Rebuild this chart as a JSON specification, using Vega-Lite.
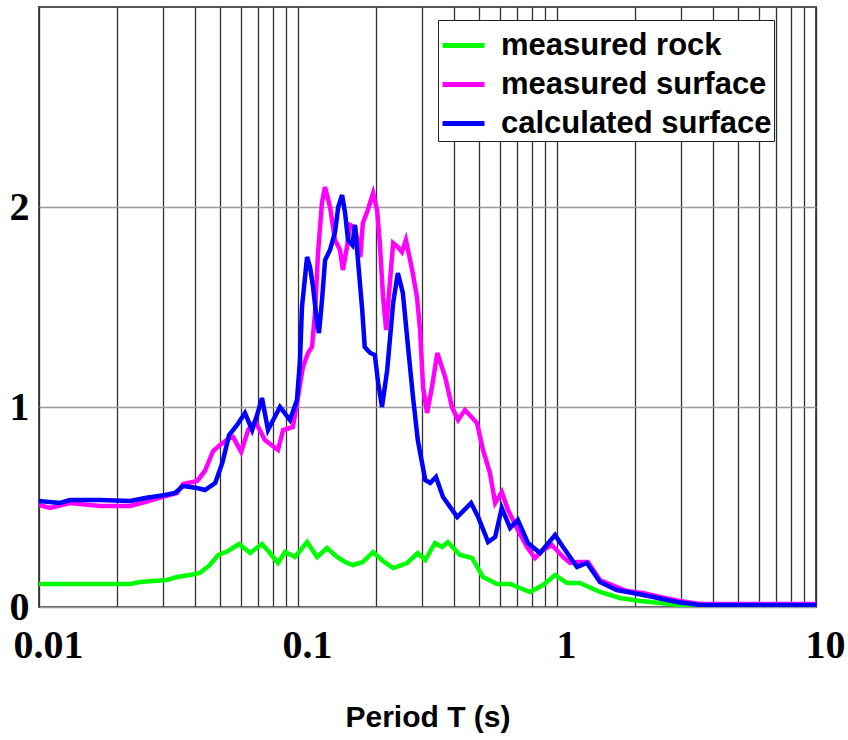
{
  "$schema": "https://vega.github.io/schema/vega-lite/v6.json",
  "width": 777,
  "height": 600,
  "autosize": {"type": "none"},
  "padding": {"left": 39, "top": 7, "right": 32, "bottom": 133},
  "background": "white",
  "config": {
    "view": {"stroke": "#555555", "strokeWidth": 2},
    "axis": {"domain": false, "ticks": false}
  },
  "data": {
    "values": [
      {"s": "measured rock", "T": 0.01, "A": 0.115},
      {"s": "measured rock", "T": 0.0144, "A": 0.115},
      {"s": "measured rock", "T": 0.0225, "A": 0.115},
      {"s": "measured rock", "T": 0.0245, "A": 0.125},
      {"s": "measured rock", "T": 0.0312, "A": 0.135},
      {"s": "measured rock", "T": 0.0341, "A": 0.15},
      {"s": "measured rock", "T": 0.0383, "A": 0.16},
      {"s": "measured rock", "T": 0.0418, "A": 0.17},
      {"s": "measured rock", "T": 0.0457, "A": 0.21},
      {"s": "measured rock", "T": 0.0491, "A": 0.26},
      {"s": "measured rock", "T": 0.0537, "A": 0.28},
      {"s": "measured rock", "T": 0.0592, "A": 0.315},
      {"s": "measured rock", "T": 0.0653, "A": 0.27},
      {"s": "measured rock", "T": 0.0726, "A": 0.315},
      {"s": "measured rock", "T": 0.0779, "A": 0.27},
      {"s": "measured rock", "T": 0.0837, "A": 0.22},
      {"s": "measured rock", "T": 0.0891, "A": 0.275},
      {"s": "measured rock", "T": 0.0974, "A": 0.25},
      {"s": "measured rock", "T": 0.1084, "A": 0.325},
      {"s": "measured rock", "T": 0.1185, "A": 0.25},
      {"s": "measured rock", "T": 0.1294, "A": 0.295},
      {"s": "measured rock", "T": 0.1415, "A": 0.25},
      {"s": "measured rock", "T": 0.152, "A": 0.225},
      {"s": "measured rock", "T": 0.163, "A": 0.21},
      {"s": "measured rock", "T": 0.178, "A": 0.225},
      {"s": "measured rock", "T": 0.195, "A": 0.275},
      {"s": "measured rock", "T": 0.213, "A": 0.23},
      {"s": "measured rock", "T": 0.233, "A": 0.195},
      {"s": "measured rock", "T": 0.264, "A": 0.22},
      {"s": "measured rock", "T": 0.29, "A": 0.27},
      {"s": "measured rock", "T": 0.31, "A": 0.235},
      {"s": "measured rock", "T": 0.338, "A": 0.32},
      {"s": "measured rock", "T": 0.36, "A": 0.3},
      {"s": "measured rock", "T": 0.379, "A": 0.325},
      {"s": "measured rock", "T": 0.422, "A": 0.26},
      {"s": "measured rock", "T": 0.47, "A": 0.245},
      {"s": "measured rock", "T": 0.518, "A": 0.15},
      {"s": "measured rock", "T": 0.587, "A": 0.115},
      {"s": "measured rock", "T": 0.659, "A": 0.115},
      {"s": "measured rock", "T": 0.786, "A": 0.075},
      {"s": "measured rock", "T": 0.883, "A": 0.11},
      {"s": "measured rock", "T": 0.983, "A": 0.16},
      {"s": "measured rock", "T": 1.093, "A": 0.12},
      {"s": "measured rock", "T": 1.225, "A": 0.12},
      {"s": "measured rock", "T": 1.465, "A": 0.075},
      {"s": "measured rock", "T": 1.75, "A": 0.045},
      {"s": "measured rock", "T": 2.09, "A": 0.03},
      {"s": "measured rock", "T": 2.5, "A": 0.02},
      {"s": "measured rock", "T": 2.97, "A": 0.01},
      {"s": "measured rock", "T": 10, "A": 0.01},

      {"s": "measured surface", "T": 0.01, "A": 0.51},
      {"s": "measured surface", "T": 0.01103, "A": 0.495},
      {"s": "measured surface", "T": 0.01317, "A": 0.52},
      {"s": "measured surface", "T": 0.0172, "A": 0.505},
      {"s": "measured surface", "T": 0.0225, "A": 0.505},
      {"s": "measured surface", "T": 0.0257, "A": 0.525},
      {"s": "measured surface", "T": 0.0298, "A": 0.55},
      {"s": "measured surface", "T": 0.0341, "A": 0.57},
      {"s": "measured surface", "T": 0.036, "A": 0.615},
      {"s": "measured surface", "T": 0.0408, "A": 0.63},
      {"s": "measured surface", "T": 0.0437, "A": 0.68},
      {"s": "measured surface", "T": 0.047, "A": 0.78},
      {"s": "measured surface", "T": 0.05, "A": 0.81},
      {"s": "measured surface", "T": 0.0537, "A": 0.84},
      {"s": "measured surface", "T": 0.0562, "A": 0.85},
      {"s": "measured surface", "T": 0.0603, "A": 0.775},
      {"s": "measured surface", "T": 0.0642, "A": 0.885},
      {"s": "measured surface", "T": 0.0683, "A": 0.93},
      {"s": "measured surface", "T": 0.0745, "A": 0.835},
      {"s": "measured surface", "T": 0.0837, "A": 0.785},
      {"s": "measured surface", "T": 0.0876, "A": 0.885},
      {"s": "measured surface", "T": 0.0956, "A": 0.9},
      {"s": "measured surface", "T": 0.1, "A": 1.05},
      {"s": "measured surface", "T": 0.1045, "A": 1.2},
      {"s": "measured surface", "T": 0.1093, "A": 1.27},
      {"s": "measured surface", "T": 0.1133, "A": 1.3},
      {"s": "measured surface", "T": 0.1163, "A": 1.47},
      {"s": "measured surface", "T": 0.1195, "A": 1.77},
      {"s": "measured surface", "T": 0.1238, "A": 2.025},
      {"s": "measured surface", "T": 0.1272, "A": 2.1},
      {"s": "measured surface", "T": 0.1329, "A": 2.0},
      {"s": "measured surface", "T": 0.139, "A": 1.835},
      {"s": "measured surface", "T": 0.1453, "A": 1.785},
      {"s": "measured surface", "T": 0.149, "A": 1.685},
      {"s": "measured surface", "T": 0.1546, "A": 1.8},
      {"s": "measured surface", "T": 0.159, "A": 1.91},
      {"s": "measured surface", "T": 0.166, "A": 1.9},
      {"s": "measured surface", "T": 0.174, "A": 1.75},
      {"s": "measured surface", "T": 0.178, "A": 1.92},
      {"s": "measured surface", "T": 0.186, "A": 1.985},
      {"s": "measured surface", "T": 0.195, "A": 2.07},
      {"s": "measured surface", "T": 0.202, "A": 1.985},
      {"s": "measured surface", "T": 0.207, "A": 1.82},
      {"s": "measured surface", "T": 0.213, "A": 1.55},
      {"s": "measured surface", "T": 0.219, "A": 1.385},
      {"s": "measured surface", "T": 0.223, "A": 1.52},
      {"s": "measured surface", "T": 0.233, "A": 1.82},
      {"s": "measured surface", "T": 0.243, "A": 1.8},
      {"s": "measured surface", "T": 0.252, "A": 1.775},
      {"s": "measured surface", "T": 0.261, "A": 1.835},
      {"s": "measured surface", "T": 0.276, "A": 1.685},
      {"s": "measured surface", "T": 0.288, "A": 1.55},
      {"s": "measured surface", "T": 0.296, "A": 1.385},
      {"s": "measured surface", "T": 0.304, "A": 1.1},
      {"s": "measured surface", "T": 0.315, "A": 0.97},
      {"s": "measured surface", "T": 0.329, "A": 1.1},
      {"s": "measured surface", "T": 0.345, "A": 1.27},
      {"s": "measured surface", "T": 0.37, "A": 1.15},
      {"s": "measured surface", "T": 0.393, "A": 1.0},
      {"s": "measured surface", "T": 0.415, "A": 0.935},
      {"s": "measured surface", "T": 0.441, "A": 0.985},
      {"s": "measured surface", "T": 0.491, "A": 0.92},
      {"s": "measured surface", "T": 0.518, "A": 0.785},
      {"s": "measured surface", "T": 0.551, "A": 0.67},
      {"s": "measured surface", "T": 0.577, "A": 0.52},
      {"s": "measured surface", "T": 0.612, "A": 0.575},
      {"s": "measured surface", "T": 0.647, "A": 0.485},
      {"s": "measured surface", "T": 0.706, "A": 0.385},
      {"s": "measured surface", "T": 0.766, "A": 0.3},
      {"s": "measured surface", "T": 0.822, "A": 0.245},
      {"s": "measured surface", "T": 0.883, "A": 0.285},
      {"s": "measured surface", "T": 0.956, "A": 0.31},
      {"s": "measured surface", "T": 1.055, "A": 0.25},
      {"s": "measured surface", "T": 1.123, "A": 0.22},
      {"s": "measured surface", "T": 1.205, "A": 0.225},
      {"s": "measured surface", "T": 1.317, "A": 0.225},
      {"s": "measured surface", "T": 1.465, "A": 0.135},
      {"s": "measured surface", "T": 1.63, "A": 0.11},
      {"s": "measured surface", "T": 1.86, "A": 0.08},
      {"s": "measured surface", "T": 2.15, "A": 0.07},
      {"s": "measured surface", "T": 2.5, "A": 0.05},
      {"s": "measured surface", "T": 2.97, "A": 0.03},
      {"s": "measured surface", "T": 3.57, "A": 0.015},
      {"s": "measured surface", "T": 10, "A": 0.015},

      {"s": "calculated surface", "T": 0.01, "A": 0.53},
      {"s": "calculated surface", "T": 0.01205, "A": 0.52},
      {"s": "calculated surface", "T": 0.01317, "A": 0.535},
      {"s": "calculated surface", "T": 0.0172, "A": 0.535},
      {"s": "calculated surface", "T": 0.0225, "A": 0.53},
      {"s": "calculated surface", "T": 0.0257, "A": 0.545},
      {"s": "calculated surface", "T": 0.0307, "A": 0.56},
      {"s": "calculated surface", "T": 0.0335, "A": 0.57},
      {"s": "calculated surface", "T": 0.036, "A": 0.605},
      {"s": "calculated surface", "T": 0.0408, "A": 0.595},
      {"s": "calculated surface", "T": 0.0437, "A": 0.585},
      {"s": "calculated surface", "T": 0.0479, "A": 0.62},
      {"s": "calculated surface", "T": 0.051, "A": 0.72},
      {"s": "calculated surface", "T": 0.0542, "A": 0.86},
      {"s": "calculated surface", "T": 0.0582, "A": 0.91},
      {"s": "calculated surface", "T": 0.0624, "A": 0.97},
      {"s": "calculated surface", "T": 0.0665, "A": 0.885},
      {"s": "calculated surface", "T": 0.0695, "A": 0.96},
      {"s": "calculated surface", "T": 0.0726, "A": 1.045},
      {"s": "calculated surface", "T": 0.0766, "A": 0.885},
      {"s": "calculated surface", "T": 0.0852, "A": 1.0},
      {"s": "calculated surface", "T": 0.0931, "A": 0.935},
      {"s": "calculated surface", "T": 0.0991, "A": 1.035},
      {"s": "calculated surface", "T": 0.1018, "A": 1.235},
      {"s": "calculated surface", "T": 0.1036, "A": 1.5},
      {"s": "calculated surface", "T": 0.1084, "A": 1.75},
      {"s": "calculated surface", "T": 0.1113, "A": 1.7},
      {"s": "calculated surface", "T": 0.1143, "A": 1.6},
      {"s": "calculated surface", "T": 0.1185, "A": 1.42},
      {"s": "calculated surface", "T": 0.1205, "A": 1.37},
      {"s": "calculated surface", "T": 0.1238, "A": 1.535},
      {"s": "calculated surface", "T": 0.1272, "A": 1.735},
      {"s": "calculated surface", "T": 0.1329, "A": 1.785},
      {"s": "calculated surface", "T": 0.139, "A": 1.875},
      {"s": "calculated surface", "T": 0.143, "A": 2.0},
      {"s": "calculated surface", "T": 0.148, "A": 2.06},
      {"s": "calculated surface", "T": 0.152, "A": 1.97},
      {"s": "calculated surface", "T": 0.156, "A": 1.835},
      {"s": "calculated surface", "T": 0.162, "A": 1.81},
      {"s": "calculated surface", "T": 0.166, "A": 1.91},
      {"s": "calculated surface", "T": 0.17, "A": 1.75},
      {"s": "calculated surface", "T": 0.177, "A": 1.485},
      {"s": "calculated surface", "T": 0.181, "A": 1.3},
      {"s": "calculated surface", "T": 0.19, "A": 1.27},
      {"s": "calculated surface", "T": 0.198, "A": 1.26},
      {"s": "calculated surface", "T": 0.204, "A": 1.12},
      {"s": "calculated surface", "T": 0.211, "A": 1.0},
      {"s": "calculated surface", "T": 0.221, "A": 1.185},
      {"s": "calculated surface", "T": 0.233, "A": 1.52},
      {"s": "calculated surface", "T": 0.243, "A": 1.67},
      {"s": "calculated surface", "T": 0.254, "A": 1.57},
      {"s": "calculated surface", "T": 0.266, "A": 1.3},
      {"s": "calculated surface", "T": 0.278, "A": 1.05},
      {"s": "calculated surface", "T": 0.29, "A": 0.835},
      {"s": "calculated surface", "T": 0.31, "A": 0.635},
      {"s": "calculated surface", "T": 0.324, "A": 0.62},
      {"s": "calculated surface", "T": 0.341, "A": 0.65},
      {"s": "calculated surface", "T": 0.363, "A": 0.55},
      {"s": "calculated surface", "T": 0.412, "A": 0.45},
      {"s": "calculated surface", "T": 0.466, "A": 0.52},
      {"s": "calculated surface", "T": 0.496, "A": 0.45},
      {"s": "calculated surface", "T": 0.542, "A": 0.325},
      {"s": "calculated surface", "T": 0.577, "A": 0.35},
      {"s": "calculated surface", "T": 0.612, "A": 0.495},
      {"s": "calculated surface", "T": 0.659, "A": 0.395},
      {"s": "calculated surface", "T": 0.706, "A": 0.435},
      {"s": "calculated surface", "T": 0.772, "A": 0.32},
      {"s": "calculated surface", "T": 0.86, "A": 0.27},
      {"s": "calculated surface", "T": 0.983, "A": 0.36},
      {"s": "calculated surface", "T": 1.055, "A": 0.3},
      {"s": "calculated surface", "T": 1.195, "A": 0.2},
      {"s": "calculated surface", "T": 1.305, "A": 0.22},
      {"s": "calculated surface", "T": 1.465, "A": 0.125},
      {"s": "calculated surface", "T": 1.7, "A": 0.085},
      {"s": "calculated surface", "T": 1.97, "A": 0.07},
      {"s": "calculated surface", "T": 2.35, "A": 0.05},
      {"s": "calculated surface", "T": 2.9, "A": 0.025},
      {"s": "calculated surface", "T": 3.57, "A": 0.01},
      {"s": "calculated surface", "T": 10, "A": 0.01}
    ]
  },
  "mark": {"type": "line", "strokeWidth": 4.5, "interpolate": "linear", "clip": true},
  "encoding": {
    "x": {
      "field": "T",
      "type": "quantitative",
      "scale": {"type": "log", "domain": [0.01, 10]},
      "axis": {
        "title": "Period T (s)",
        "titleFont": "Liberation Sans",
        "titleFontWeight": "bold",
        "titleFontSize": 30,
        "titleColor": "black",
        "titlePadding": 37,
        "values": [0.01, 0.02, 0.03, 0.04, 0.05, 0.06, 0.07, 0.08, 0.09, 0.1, 0.2, 0.3, 0.4, 0.5, 0.6, 0.7, 0.8, 0.9, 1, 2, 3, 4, 5, 6, 7, 8, 9, 10],
        "labelExpr": "datum.value == 0.01 ? '0.01' : datum.value == 0.1 ? '0.1' : datum.value == 1 ? '1' : datum.value == 10 ? '10' : ''",
        "labelFont": "Liberation Serif",
        "labelFontWeight": "bold",
        "labelFontSize": 40,
        "labelColor": "black",
        "labelPadding": 18,
        "labelOffset": 9,
        "labelFlush": false,
        "labelOverlap": false,
        "labelBound": false,
        "grid": true,
        "gridColor": "#333333",
        "gridWidth": 1.3,
        "gridOpacity": 1
      }
    },
    "y": {
      "field": "A",
      "type": "quantitative",
      "scale": {"domain": [0, 3], "nice": false, "zero": true},
      "axis": {
        "title": null,
        "values": [0, 1, 2],
        "format": "d",
        "labelFont": "Liberation Serif",
        "labelFontWeight": "bold",
        "labelFontSize": 40,
        "labelColor": "black",
        "labelPadding": 10,
        "labelOverlap": false,
        "labelBound": false,
        "grid": true,
        "gridColor": "#9a9a9a",
        "gridWidth": 1.6,
        "gridOpacity": 1
      }
    },
    "color": {
      "field": "s",
      "type": "nominal",
      "scale": {
        "domain": ["measured rock", "measured surface", "calculated surface"],
        "range": ["#00ff00", "#ff00ff", "#0000ff"]
      },
      "legend": {
        "title": null,
        "orient": "none",
        "legendX": 399,
        "legendY": 13,
        "symbolType": "stroke",
        "symbolSize": 1764,
        "symbolStrokeWidth": 5,
        "labelFont": "Liberation Sans",
        "labelFontWeight": "bold",
        "labelFontSize": 31,
        "labelColor": "black",
        "labelOffset": 14,
        "labelLimit": 400,
        "rowPadding": -5,
        "padding": 2,
        "strokeColor": "#222222",
        "fillColor": "white",
        "cornerRadius": 0
      }
    }
  }
}
